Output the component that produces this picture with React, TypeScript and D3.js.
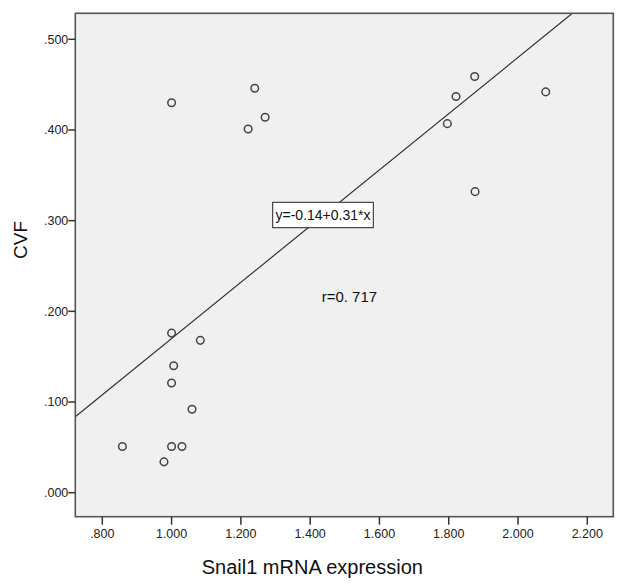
import React from "react";
import * as d3 from "d3";

const snail1 = [0.858, 0.978, 1.0, 1.03, 1.059, 1.0, 1.006, 1.0, 1.083, 1.0, 1.221, 1.27, 1.24, 1.796, 1.821, 1.875, 2.08, 1.876];
const cvf = [0.051, 0.034, 0.051, 0.051, 0.092, 0.121, 0.14, 0.176, 0.168, 0.43, 0.401, 0.414, 0.446, 0.407, 0.437, 0.459, 0.442, 0.332];
const xTicks = [0.8, 1.0, 1.2, 1.4, 1.6, 1.8, 2.0, 2.2];
const yTicks = [0, 0.1, 0.2, 0.3, 0.4, 0.5];
const intercept = -0.14;
const slope = 0.31;
const equationLabel = "y=-0.14+0.31*x";
const rLabel = "r=0. 717";
const xTitle = "Snail1 mRNA expression";
const yTitle = "CVF";

const W = 628;
const H = 585;
const L = 75.3, R = 613.3, T = 13.3, B = 516.7;

export default function App() {
  const x = d3.scaleLinear().domain([0.8, 2.2]).range([102.3, 587.3]);
  const y = d3.scaleLinear().domain([0, 0.5]).range([492.7, 39.3]);
  const xMin = x.invert(L), xMax = x.invert(R);
  const yMax = y.invert(T);
  // regression line clipped to frame
  const xEnd = Math.min(xMax, (yMax - intercept) / slope);
  const lineGen = d3.line<number>().x((d) => x(d)).y((d) => y(intercept + slope * d));
  const fmt = (v: number) => {
    const s = d3.format(".3f")(v);
    return s.startsWith("0") ? s.slice(1) : s;
  };
  const font = "Liberation Sans, Arial, sans-serif";
  return (
    <svg width={W} height={H} style={{ position: "absolute", left: 0, top: 0, background: "#fff" }} fontFamily={font}>
      <rect x={L} y={T} width={R - L} height={B - T} fill="#f0f0f0" />
      <path d={lineGen([xMin, xEnd]) || ""} stroke="#333" strokeWidth={1.2} fill="none" />
      {snail1.map((v, i) => (
        <circle key={i} cx={x(v)} cy={y(cvf[i])} r={3.8} fill="none" stroke="#444" strokeWidth={1.5} />
      ))}
      <rect x={272.7} y={202.3} width={100.6} height={25.4} fill="#fff" stroke="#222" strokeWidth={1} />
      <text x={323} y={220} fontSize={14} textAnchor="middle" fill="#111">{equationLabel}</text>
      <text x={321.7} y={301.7} fontSize={15} fill="#111">{rLabel}</text>
      <rect x={L} y={T} width={R - L} height={B - T} fill="none" stroke="#555" strokeWidth={1.6} />
      {xTicks.map((t) => (
        <g key={"x" + t}>
          <line x1={x(t)} x2={x(t)} y1={B} y2={B + 8} stroke="#333" strokeWidth={1.5} />
          <text x={x(t)} y={538} fontSize={12.5} textAnchor="middle" fill="#222">{fmt(t)}</text>
        </g>
      ))}
      {yTicks.map((t) => (
        <g key={"y" + t}>
          <line x1={L - 7} x2={L} y1={y(t)} y2={y(t)} stroke="#333" strokeWidth={1.5} />
          <text x={L - 7} y={y(t)} dy="0.35em" fontSize={12.5} textAnchor="end" fill="#222">{fmt(t)}</text>
        </g>
      ))}
      <text x={(L + R) / 2 - 32} y={574} fontSize={20} textAnchor="middle" fill="#111">{xTitle}</text>
      <text transform={`translate(27,240) rotate(-90)`} fontSize={19} textAnchor="middle" fill="#111">{yTitle}</text>
    </svg>
  );
}
